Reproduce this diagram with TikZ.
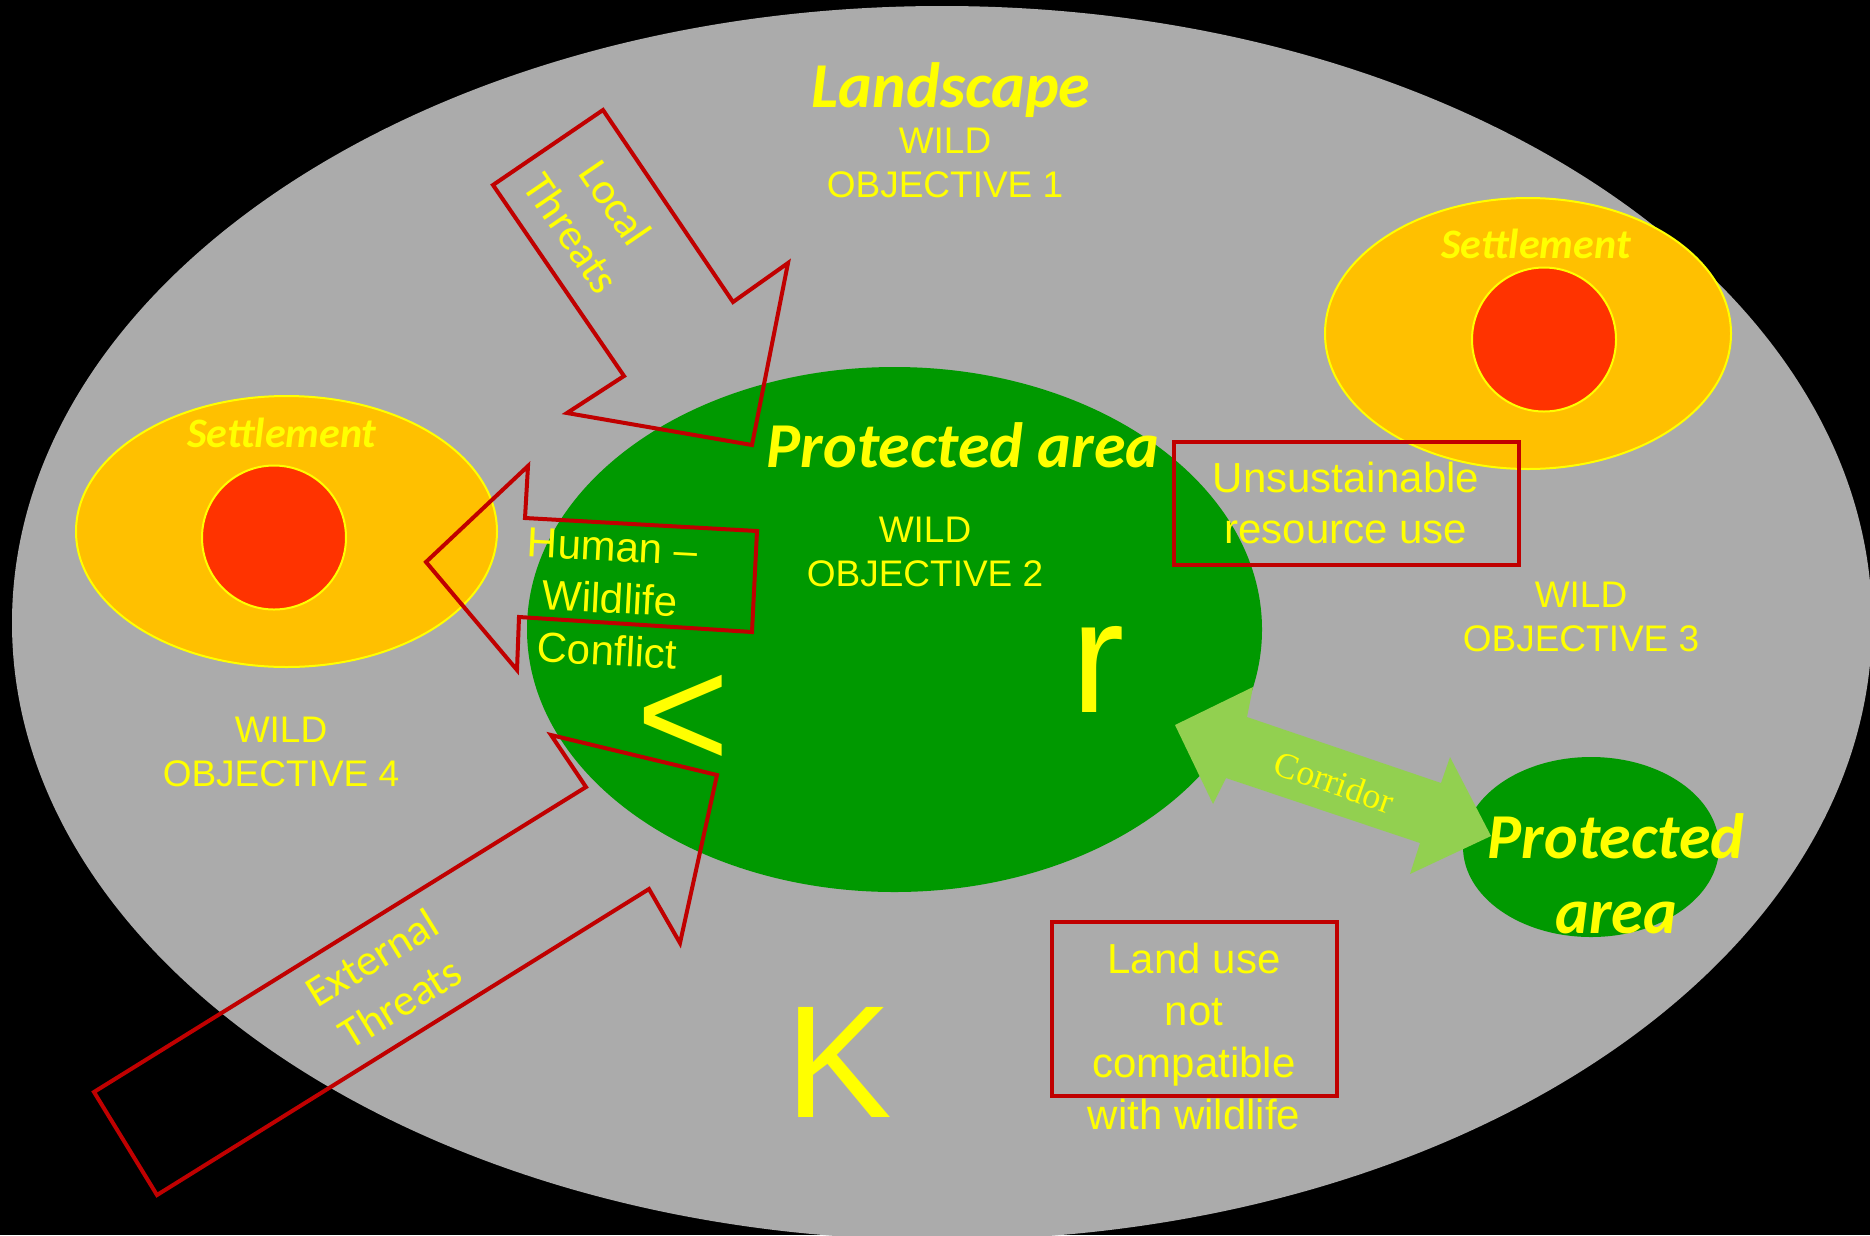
\documentclass[tikz,border=0pt]{standalone}
\usepackage{fontspec}
\setmainfont{Liberation Sans}
\newfontfamily\calibrifont{Carlito}
\newfontfamily\timesfont{Liberation Serif}
\definecolor{landgray}{RGB}{171,171,171}
\definecolor{pagreen}{RGB}{0,153,0}
\definecolor{settleorange}{RGB}{255,192,0}
\definecolor{townred}{RGB}{255,51,0}
\definecolor{threatred}{RGB}{192,0,0}
\definecolor{corridorgreen}{RGB}{146,208,80}
\definecolor{labelyellow}{RGB}{255,255,0}

\begin{document}
\begin{tikzpicture}[x = 1pt, y = -1pt,
  threat/.style = {draw = threatred, line width = 4pt},
  rim/.style = {draw = labelyellow, line width = 2pt},
  wildtext/.style = {text = labelyellow, align = center, inner sep = 0pt, font = \fontsize{37}{44}\selectfont},
  boxtext/.style = {text = labelyellow, align = center, inner sep = 0pt, font = \fontsize{42}{51}\selectfont},
  titletext/.style = {text = labelyellow, inner sep = 0pt, font = \calibrifont\bfseries\itshape\fontsize{64}{75}\selectfont},
  settletext/.style = {text = labelyellow, inner sep = 0pt, anchor = base, font = \calibrifont\bfseries\itshape\fontsize{42}{50}\selectfont},
  threattext/.style = {text = labelyellow, align = center, inner sep = 0pt, font = \calibrifont\fontsize{44}{53}\selectfont},
  glyph/.style = {text = labelyellow, inner sep = 0pt, anchor = base, font = \fontsize{160}{160}\selectfont}]
\useasboundingbox (0,0) rectangle (1870,1235);
\fill[black] (0,0) rectangle (1870,1235);
\clip (0,0) rectangle (1870,1235);
\begin{scope}
\draw[draw = none, fill = landgray] (942,623) ellipse [x radius = 930pt, y radius = 617pt];
\draw[rim, fill = settleorange] (286.5,531.5) ellipse [x radius = 210.5pt, y radius = 135.5pt];
\draw[rim, fill = townred] (274,537.5) circle [radius = 72pt];
\draw[rim, fill = settleorange] (1528,333.5) ellipse [x radius = 203pt, y radius = 135.5pt];
\draw[rim, fill = townred] (1544,339.5) circle [radius = 72pt];
\draw[draw = none, fill = pagreen] (894.5,629.5) ellipse [x radius = 367.5pt, y radius = 262.5pt];
\draw[draw = none, fill = pagreen] (1591,847) ellipse [x radius = 128pt, y radius = 90pt];
\draw[draw = none, fill = corridorgreen] (1175,725) -- (1253,687) -- (1247,717) -- (1441,783) -- (1450,757)
  -- (1491,836) -- (1410,874) -- (1420,843) -- (1226,778) -- (1213,804) -- cycle;
\draw[threat] (603,110) -- (493,185) -- (624,376) -- (567,413) -- (752,445) -- (788,263) -- (733,302) -- cycle;
\draw[threat] (426,562) -- (528,466) -- (525,518) -- (757,531) -- (752,632) -- (519,617) -- (517,670) -- cycle;
\draw[threat] (94,1092) -- (586,787) -- (551,735) -- (717,775) -- (680,943) -- (649,889) -- (157,1195) -- cycle;
\draw[threat] (1174,442) rectangle (1519,565);
\draw[threat] (1052,922) rectangle (1337,1096);
\node[titletext, anchor = base] (landscape) at (951,107) {Landscape};
\node[wildtext] (obj1) at (945,163) {WILD\\OBJECTIVE 1};
\node[titletext, anchor = base] (mainpa) at (963,467) {Protected area};
\node[wildtext] (obj2) at (925,552) {WILD\\OBJECTIVE 2};
\node[wildtext] (obj3) at (1581,617) {WILD\\OBJECTIVE 3};
\node[wildtext] (obj4) at (281,752) {WILD\\OBJECTIVE 4};
\node[settletext] (settleW) at (282,447) {Settlement};
\node[settletext] (settleE) at (1536,258) {Settlement};
\node[titletext, align = center] (smallpa) at (1616,874) {Protected\\area};
\node[threattext, rotate = -55.6] (localthr) at (594,218) {Local\\Threats};
\node[threattext, rotate = 31.7] (extthr) at (386,980) {External\\Threats};
\node[boxtext, rotate = -3, font = \fontsize{42}{52}\selectfont] (conflict) at (610,599) {Human –\\Wildlife\\Conflict};
\node[boxtext] (resuse) at (1346,503) {Unsustainable\\resource use};
\node[boxtext, font = \fontsize{42}{52}\selectfont] (landuse) at (1194,1036) {Land use\\not\\compatible\\with wildlife};
\node[text = labelyellow, inner sep = 0pt, rotate = -19.4, font = \timesfont\fontsize{36}{40}\selectfont] (corridor) at (1334,782) {Corridor};
\node[glyph] (glyphlt) at (683,768) {\textless};
\node[glyph] (glyphr) at (1098,712) {r};
\node[glyph] (glyphk) at (839,1117) {K};
\end{scope}
\end{tikzpicture}
\end{document}
